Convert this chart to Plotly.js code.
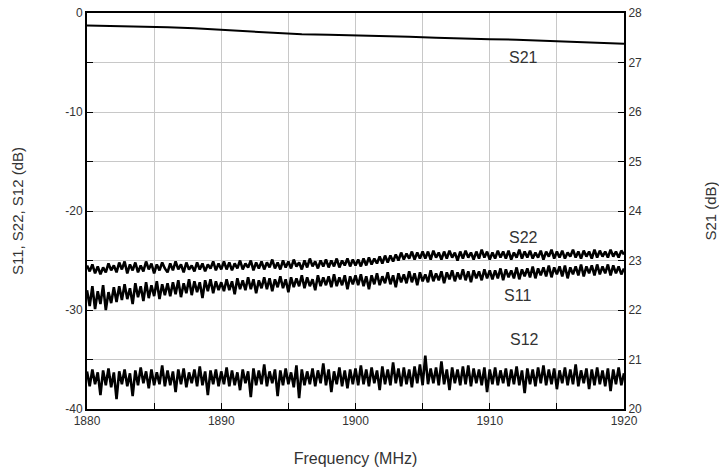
<!DOCTYPE html>
<html>
<head>
<meta charset="utf-8">
<script src="https://cdn.plot.ly/plotly-3.0.1.min.js"></script>
<style>html,body{margin:0;padding:0;background:#fff;}#chart{width:719px;height:473px;}</style>
</head>
<body>
<div id="chart"></div>
<script>
// Sweep: 1880 MHz start, 0.2 MHz step, 201 points (used via Plotly x0/dx)
const sweepStart = 1880;
const sweepStep = 0.2;

const s22 = [
-25.5,-26.1,-25.4,-26.3,-25.6,-26.4,-25.7,-26.2,-25.3,-26.0,-25.5,
-26.2,-25.2,-25.9,-25.1,-26.3,-25.4,-26.0,-25.2,-26.2,-25.5,
-26.1,-25.1,-25.9,-25.3,-26.3,-25.4,-26.0,-25.2,-25.8,-26.2,
-25.3,-26.0,-25.1,-25.9,-25.4,-26.2,-25.2,-25.9,-25.5,-26.1,
-25.2,-25.9,-25.3,-26.1,-25.4,-25.8,-25.1,-26.0,-25.3,-25.9,
-25.1,-25.9,-25.2,-26.0,-25.3,-25.8,-25.0,-25.9,-25.3,-25.7,
-25.0,-26.0,-25.2,-25.8,-25.1,-25.9,-25.2,-25.7,-24.9,-25.8,
-25.2,-25.9,-25.0,-25.7,-25.1,-25.8,-24.9,-25.6,-25.2,-25.9,
-25.0,-25.7,-24.8,-25.6,-25.1,-25.8,-25.0,-25.6,-24.9,-25.7,
-25.0,-25.6,-24.8,-25.7,-25.0,-25.5,-24.8,-25.6,-24.9,-25.5,
-24.9,-25.6,-24.8,-25.5,-24.7,-25.4,-24.8,-25.3,-24.6,-25.3,
-24.5,-25.2,-24.5,-25.1,-24.4,-25.0,-24.2,-24.9,-24.3,-24.8,
-24.1,-24.9,-24.2,-24.8,-24.1,
-24.8,-24.1,-24.9,-24.0,-24.7,-24.2,-24.9,-24.1,-24.8,-24.0,
-24.7,-24.2,-25.0,-24.1,-24.8,-24.0,-24.7,-24.2,-24.9,-24.1,
-24.8,-23.9,-24.7,-24.1,-24.9,-24.2,-24.8,-24.0,-24.7,-24.1,
-24.8,-24.0,-24.9,-24.2,-24.7,-23.9,-24.8,-24.1,-24.7,-24.0,
-24.8,-24.2,-24.7,-24.0,-24.9,-24.1,-24.6,-23.9,-24.8,-24.1,
-24.7,-24.0,-24.8,-24.2,-24.6,-23.9,-24.7,-24.1,-24.8,-24.0,
-24.6,-24.1,-24.8,-23.9,-24.7,-24.0,-24.6,-24.1,-24.7,-23.9,
-24.6,-24.1,-24.7,-24.0,-24.4
];

const s11 = [
-28.0,-29.6,-27.6,-29.9,-28.1,-29.4,-27.5,-30.0,-28.2,-29.3,-27.7,
-29.2,-27.6,-29.0,-27.4,-28.9,-27.8,-29.4,-27.3,-28.7,-27.6,
-29.1,-27.2,-28.8,-27.5,-28.6,-27.1,-28.9,-27.4,-28.5,-27.3,
-28.6,-27.2,-28.4,-27.0,-28.7,-27.3,-28.3,-26.9,-28.5,-27.1,
-28.2,-27.2,-28.8,-27.0,-28.1,-26.9,-28.3,-27.1,-28.0,-27.2,
-28.1,-26.9,-28.0,-27.1,-28.4,-26.8,-27.9,-27.0,-28.0,-26.7,
-27.9,-26.9,-28.3,-27.0,-27.8,-26.7,-27.9,-26.8,-28.1,-26.9,
-27.7,-26.6,-27.8,-26.9,-28.2,-26.7,-27.7,-26.8,-27.6,-26.5,
-27.8,-26.7,-27.6,-26.9,-28.0,-26.5,-27.6,-26.7,-27.5,-26.6,
-27.7,-26.4,-27.6,-26.7,-27.5,-26.5,-27.9,-26.6,-27.4,-26.5,
-27.5,-26.4,-27.6,-26.6,-27.9,-26.5,-27.4,-26.3,-27.5,-26.6,
-27.3,-26.2,-27.4,-26.5,-27.7,-26.3,-27.2,-26.4,-27.3,-26.1,
-27.2,-26.3,-27.5,-26.2,-27.1,-26.4,-27.2,-26.0,-27.1,-26.3,
-27.0,-26.1,-27.3,-26.2,-26.9,-26.0,-27.1,-26.2,-26.9,-25.9,
-27.0,-26.1,-27.2,-26.0,-26.8,-26.1,-27.0,-25.9,-26.8,-26.0,
-26.9,-26.0,-26.8,-25.8,-27.0,-25.9,-26.7,-26.0,-26.8,-25.7,
-26.9,-25.9,-26.6,-25.8,-26.7,-25.6,-26.8,-25.8,-26.5,-25.7,
-26.6,-25.5,-26.7,-25.7,-26.4,-25.6,-26.6,-25.5,-26.8,-25.7,
-26.4,-25.6,-26.5,-25.4,-26.6,-25.6,-26.3,-25.5,-26.5,-25.4,
-26.4,-25.6,-26.3,-25.4,-26.5,-25.5,-26.3,-25.6,-26.4,-25.8
];

const s12 = [
-36.2,-37.7,-36.0,-37.5,-36.3,-38.6,-36.1,-37.6,-35.9,-37.8,
-36.3,-39.0,-36.2,-37.5,-36.0,-37.7,-36.4,-38.7,-36.1,-37.6,
-35.8,-37.4,-36.2,-37.9,-36.0,-37.6,-36.3,-37.5,-35.6,-37.7,
-36.1,-37.6,-36.2,-38.3,-36.0,-37.5,-35.9,-37.8,-36.3,-37.4,
-36.0,-37.7,-35.7,-37.6,-36.2,-38.6,-36.1,-37.5,-36.0,-37.7,
-36.2,-37.5,-35.8,-37.7,-36.1,-37.6,-36.3,-38.1,-36.0,-37.4,
-36.2,-38.8,-35.9,-37.6,-36.1,-37.5,-35.5,-37.7,-36.2,-37.4,
-36.0,-38.7,-36.1,-37.6,-35.9,-37.5,-36.3,-37.8,-35.6,-38.9,
-36.0,-37.6,-36.2,-37.5,-35.9,-37.7,-36.1,-37.4,-35.4,-37.6,
-36.0,-38.3,-36.2,-37.5,-35.8,-37.7,-36.1,-37.9,-36.0,-37.5,
-35.9,-37.6,-35.6,-37.5,-36.0,-37.7,-35.8,-37.4,-36.1,-38.1,
-35.7,-37.5,-36.0,-37.6,-35.3,-37.4,-35.9,-37.7,-35.8,-37.5,
-36.0,-37.8,-35.7,-37.4,-35.5,-37.6,-34.6,-37.5,-35.9,-37.4,
-35.8,-37.6,-35.2,-37.5,-36.0,-38.1,-35.8,-37.4,-36.0,-37.6,
-35.7,-37.5,-35.6,-37.7,-35.9,-37.4,-36.0,-37.6,-35.8,-38.3,
-36.0,-37.5,-35.8,-37.6,-36.1,-37.4,-35.9,-37.7,-36.0,-37.5,
-35.7,-37.6,-36.1,-38.4,-35.9,-37.5,-36.0,-37.7,-35.8,-37.4,
-35.6,-37.6,-36.0,-37.5,-35.9,-38.0,-36.1,-37.4,-35.8,-37.6,
-36.0,-37.5,-35.5,-37.7,-36.1,-37.4,-35.9,-38.0,-36.0,-37.6,
-35.8,-37.5,-36.1,-37.7,-35.9,-38.2,-36.0,-37.5,-35.8,-37.6,
-36.4
];

const s21Freq = [1880,1882,1884,1886,1888,1890,1892,1894,1896,1898,1900,1902,1904,1906,1908,1910,1912,1914,1916,1918,1920];
const s21 = [27.75,27.74,27.72,27.71,27.69,27.66,27.63,27.60,27.57,27.56,27.55,27.54,27.52,27.50,27.48,27.47,27.46,27.44,27.42,27.40,27.38];

const xTicks = [1880,1890,1900,1910,1920];
const leftTicks = [-40,-30,-20,-10,0];
const rightTicks = [20,21,22,23,24,25,26,27,28];

const FAM = 'Liberation Sans, Arial, sans-serif';
function f(size){ return {family:FAM, size:size, color:'#333333'}; }

const lineStyle = {color:'#000', width:2.6};
const traces = [
  {x0:sweepStart, dx:sweepStep, y:s22, name:'S22', mode:'lines', line:lineStyle, yaxis:'y'},
  {x0:sweepStart, dx:sweepStep, y:s11, name:'S11', mode:'lines', line:lineStyle, yaxis:'y'},
  {x0:sweepStart, dx:sweepStep, y:s12, name:'S12', mode:'lines', line:lineStyle, yaxis:'y'},
  {x:s21Freq, y:s21, name:'S21', mode:'lines', line:{color:'#000', width:2}, yaxis:'y2'}
];

const layout = {
  template:{},
  font:{family:FAM, size:12, color:'#333333'},
  width:719, height:473,
  margin:{l:87, r:95, t:13, b:64},
  paper_bgcolor:'#fff', plot_bgcolor:'#fff',
  showlegend:false,
  xaxis:{
    range:[1880,1920], tickvals:xTicks, ticktext:xTicks.map(String),
    ticks:'inside', ticklen:6, tickcolor:'#000',
    showgrid:true, gridcolor:'#c8c8c8', gridwidth:1,
    minor:{dtick:5, showgrid:true, gridcolor:'#c8c8c8', ticks:'inside', ticklen:6, tickcolor:'#000'},
    showline:true, linecolor:'#000', linewidth:2, mirror:true,
    zeroline:false, tickfont:f(12),
    title:{text:'Frequency (MHz)', font:f(16), standoff:25}
  },
  yaxis:{
    range:[-40,0], tickvals:leftTicks, ticktext:leftTicks.map(String),
    ticks:'inside', ticklen:6, tickcolor:'#000',
    showgrid:true, gridcolor:'#c8c8c8', gridwidth:1,
    minor:{dtick:5, showgrid:true, gridcolor:'#c8c8c8', ticks:'inside', ticklen:6, tickcolor:'#000'},
    showline:true, linecolor:'#000', linewidth:2,
    zeroline:false, tickfont:f(12),
    title:{text:'S11, S22, S12 (dB)', font:f(15), standoff:38}
  },
  yaxis2:{
    overlaying:'y', side:'right',
    range:[20,28], tickvals:rightTicks, ticktext:rightTicks.map(String),
    ticks:'inside', ticklen:6, tickcolor:'#000',
    showgrid:false, showline:true, linecolor:'#000', linewidth:2,
    zeroline:false, tickfont:f(12),
    title:{text:'S21 (dB)', font:f(15), standoff:64}
  },
  annotations:[
    {x:1912.5, y:-4.5, xref:'x', yref:'y', text:'S21', showarrow:false, font:f(16)},
    {x:1912.5, y:-22.7, xref:'x', yref:'y', text:'S22', showarrow:false, font:f(16)},
    {x:1912.1, y:-28.5, xref:'x', yref:'y', text:'S11', showarrow:false, font:f(16)},
    {x:1912.6, y:-33.0, xref:'x', yref:'y', text:'S12', showarrow:false, font:f(16)}
  ]
};

Plotly.newPlot('chart', traces, layout, {displayModeBar:false, staticPlot:true});
</script>
</body>
</html>
